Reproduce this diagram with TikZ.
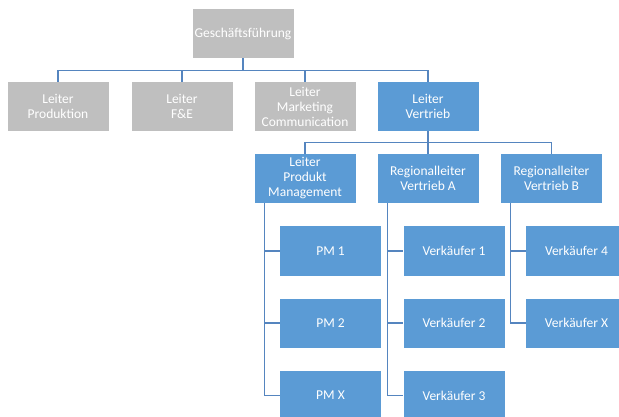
\documentclass[tikz,border=0pt]{standalone}
\usepackage{fontspec}
\setmainfont{Carlito}
\definecolor{boxgray}{HTML}{BFBFBF}
\definecolor{boxblue}{HTML}{5B9BD5}
\definecolor{linkblue}{HTML}{5585BF}
\tikzset{
  unit/.style={minimum width=101pt, minimum height=49pt, inner sep=0pt,
    align=center, text=white, font=\fontsize{13.5}{15}\selectfont},
  staff/.style={unit, fill=boxgray},
  line/.style={unit, fill=boxblue},
  link/.style={draw=linkblue, line width=1.3pt},
}
\begin{document}
\begin{tikzpicture}[x=1pt, y=-1pt]
\useasboundingbox (0,0) rectangle (619,417);
\begin{scope}
\clip (0,0) rectangle (619,417);
% top management
\node[staff] (gf) at (243,33.5) {Geschäftsführung};
% second level
\node[staff] (prod) at (58,106.5) {Leiter\\Produktion};
\node[staff] (fe)   at (182,106.5) {Leiter\\F\&E};
\node[staff] (mkt)  at (305,106.5) {Leiter\\Marketing\\Communication};
\node[line]  (vt)   at (428,106.5) {Leiter\\Vertrieb};
% sales department
\node[line] (lpm) at (305,178.5) {Leiter\\Produkt\\Management};
\node[line] (rva) at (428,178.5) {Regionalleiter\\Vertrieb A};
\node[line] (rvb) at (551.5,178.5) {Regionalleiter\\Vertrieb B};
% product managers
\node[line] (pm1) at (330.5,251) {PM 1};
\node[line] (pm2) at (330.5,323) {PM 2};
\node[line] (pmx) at (330.5,395.5) {PM X};
% region A
\node[line] (va1) at (454,251) {Verkäufer 1};
\node[line] (va2) at (454,323) {Verkäufer 2};
\node[line] (va3) at (454,395.5) {Verkäufer 3};
% region B
\node[line] (vb4) at (576.5,251) {Verkäufer 4};
\node[line] (vbx) at (576.5,323) {Verkäufer X};
% connectors
\foreach \c in {prod,fe,mkt,vt}
  \draw[link] (gf.south) -- ++(0,12.5) -| (\c.north);
\foreach \c in {lpm,rva,rvb}
  \draw[link] (vt.south) -- ++(0,11.5) -| (\c.north);
\foreach \c in {pm1,pm2,pmx}
  \draw[link] ([xshift=10pt]lpm.south west) |- (\c.west);
\foreach \c in {va1,va2,va3}
  \draw[link] ([xshift=10pt]rva.south west) |- (\c.west);
\foreach \c in {vb4,vbx}
  \draw[link] ([xshift=10pt]rvb.south west) |- (\c.west);
\end{scope}
\end{tikzpicture}
\end{document}
